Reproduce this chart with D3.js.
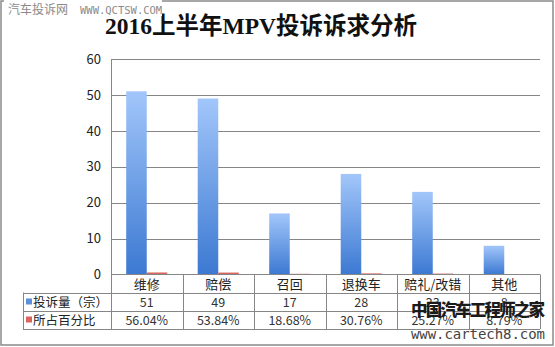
<!DOCTYPE html>
<html>
<head>
<meta charset="utf-8">
<script src="https://cdn.jsdelivr.net/npm/d3@7"></script>
<style>
  html, body { margin: 0; padding: 0; background: #fff; }
  svg { display: block; }
</style>
</head>
<body>
<svg id="chart" width="555" height="347"></svg>
<script>
const categories = ["维修", "赔偿", "召回", "退换车", "赔礼/改错", "其他"];
const complaintCounts = [51, 49, 17, 28, 23, 8];
const percentValues = [0.5604, 0.5384, 0.1868, 0.3076, 0.2527, 0.0879];
const percentLabels = ["56.04%", "53.84%", "18.68%", "30.76%", "25.27%", "8.79%"];
const seriesNames = ["投诉量（宗）", "所占百分比"];
const yTicks = [0, 10, 20, 30, 40, 50, 60];
const titleText = "2016上半年MPV投诉诉求分析";

const svg = d3.select("#chart");
const cjk = "'Noto Sans CJK SC', 'Noto Sans', sans-serif";

const plotLeft = 111, plotRight = 540, plotTop = 59, plotBottom = 274.5;
const rowH = 18;
const tableLeft = 23;

// outer border
svg.append("rect").attr("x", 1).attr("y", 1).attr("width", 552).attr("height", 344)
  .attr("fill", "#fff").attr("stroke", "#8a8a8a").attr("stroke-width", 1.5);

// gradients
const defs = svg.append("defs");
const gBlue = defs.append("linearGradient").attr("id", "gBlue")
  .attr("x1", 0).attr("y1", 0).attr("x2", 0).attr("y2", 1);
gBlue.append("stop").attr("offset", "0%").attr("stop-color", "#a2c6fa");
gBlue.append("stop").attr("offset", "100%").attr("stop-color", "#3c79d2");

const x = d3.scaleBand().domain(categories).range([plotLeft, plotRight]).padding(0);
const inner = d3.scaleBand().domain(seriesNames).range([0, x.bandwidth()])
  .paddingInner(0).paddingOuter(0.74);
const y = d3.scaleLinear().domain([0, 60]).range([plotBottom, plotTop]);

// gridlines
svg.append("g").selectAll("line").data(yTicks.filter(d => d > 0)).join("line")
  .attr("x1", plotLeft).attr("x2", plotRight)
  .attr("y1", d => Math.round(y(d)) + 0.5).attr("y2", d => Math.round(y(d)) + 0.5)
  .attr("stroke", "#868686").attr("stroke-width", 1);

// y axis
const yAxis = svg.append("g").attr("transform", `translate(${plotLeft},0)`)
  .call(d3.axisLeft(y).tickValues(yTicks).tickSize(0).tickPadding(10));
yAxis.select(".domain").attr("stroke", "#868686");
yAxis.selectAll("text").attr("font-family", cjk).attr("font-size", 13).attr("fill", "#222");

// bars
svg.append("g").selectAll("rect").data(categories).join("rect")
  .attr("x", (d) => x(d) + inner(seriesNames[0]))
  .attr("width", inner.bandwidth())
  .attr("y", (d, i) => y(complaintCounts[i]))
  .attr("height", (d, i) => y(0) - y(complaintCounts[i]))
  .attr("fill", "url(#gBlue)");
svg.append("g").selectAll("rect").data(categories).join("rect")
  .attr("x", (d) => x(d) + inner(seriesNames[1]))
  .attr("width", inner.bandwidth())
  .attr("y", (d, i) => y(percentValues[i]))
  .attr("height", (d, i) => y(0) - y(percentValues[i]))
  .attr("fill", "#d9665e");

// table
const tb = svg.append("g");
const rowsY = [plotBottom, plotBottom + rowH, plotBottom + 2 * rowH, plotBottom + 3 * rowH];
const lineC = "#868686";
tb.append("line").attr("x1", plotLeft).attr("x2", plotRight).attr("y1", rowsY[0]).attr("y2", rowsY[0]).attr("stroke", lineC);
[1, 2, 3].forEach(k => {
  tb.append("line").attr("x1", tableLeft).attr("x2", plotRight)
    .attr("y1", Math.round(rowsY[k]) + 0.5).attr("y2", Math.round(rowsY[k]) + 0.5).attr("stroke", lineC);
});
tb.append("line").attr("x1", tableLeft + 0.5).attr("x2", tableLeft + 0.5)
  .attr("y1", rowsY[1]).attr("y2", rowsY[3] + 0.5).attr("stroke", lineC);
const bounds = categories.map(c => x(c) + x.bandwidth());
tb.selectAll("line.v").data(bounds).join("line").attr("class", "v")
  .attr("x1", d => Math.round(d) + 0.5).attr("x2", d => Math.round(d) + 0.5)
  .attr("y1", rowsY[0]).attr("y2", rowsY[3] + 0.5).attr("stroke", lineC);
tb.append("line").attr("x1", plotLeft + 0.5).attr("x2", plotLeft + 0.5)
  .attr("y1", rowsY[0]).attr("y2", rowsY[3] + 0.5).attr("stroke", lineC);

tb.selectAll("text.cat").data(categories).join("text").attr("class", "cat")
  .attr("x", d => x(d) + x.bandwidth() / 2).attr("y", rowsY[0] + rowH / 2 + 5)
  .attr("text-anchor", "middle").attr("font-family", cjk).attr("font-size", 13).attr("fill", "#222")
  .text(d => d);
tb.selectAll("text.v1").data(categories).join("text").attr("class", "v1")
  .attr("x", d => x(d) + x.bandwidth() / 2).attr("y", rowsY[1] + rowH / 2 + 5)
  .attr("text-anchor", "middle").attr("font-family", cjk).attr("font-size", 12.5).attr("fill", "#333")
  .text((d, i) => complaintCounts[i]);
tb.selectAll("text.v2").data(categories).join("text").attr("class", "v2")
  .attr("x", d => x(d) + x.bandwidth() / 2).attr("y", rowsY[2] + rowH / 2 + 5)
  .attr("text-anchor", "middle").attr("font-family", cjk).attr("font-size", 12.5).attr("fill", "#333")
  .text((d, i) => percentLabels[i]);

const keyColors = ["#5a8fdc", "#d9665e"];
seriesNames.forEach((s, k) => {
  const cy = rowsY[k + 1] + rowH / 2;
  tb.append("rect").attr("x", 26).attr("y", cy - 3).attr("width", 6).attr("height", 6).attr("fill", keyColors[k]);
  tb.append("text").attr("x", 33).attr("y", cy + 5).attr("font-family", cjk).attr("font-size", 12.5)
    .attr("fill", "#222").text(s);
});

// title
svg.append("text").attr("x", 261).attr("y", 34).attr("text-anchor", "middle")
  .attr("font-family", "'Liberation Serif', 'Noto Sans CJK SC', serif").attr("font-weight", "bold")
  .attr("font-size", 23.5).attr("fill", "#111").text(titleText);

// watermark top-left
svg.append("rect").attr("x", 4).attr("y", 0).attr("width", 158).attr("height", 16).attr("fill", "#fff");
svg.append("text").attr("x", 8).attr("y", 14).attr("font-family", cjk).attr("font-size", 12)
  .attr("fill", "#8a8a8a").text("汽车投诉网");
svg.append("text").attr("x", 80).attr("y", 13.5).attr("font-family", "'DejaVu Sans Mono', monospace").attr("font-size", 10.5)
  .attr("fill", "#8a8a8a").text("WWW.QCTSW.COM");

// watermark bottom-right
svg.append("text").attr("x", 478).attr("y", 316).attr("text-anchor", "middle")
  .attr("font-family", cjk).attr("font-weight", "900").attr("font-size", 16.5).attr("fill", "#1a1a1a")
  .attr("textLength", 134).text("中国汽车工程师之家");
svg.append("text").attr("x", 478).attr("y", 339).attr("text-anchor", "middle")
  .attr("font-family", "'DejaVu Sans Mono', monospace").attr("font-size", 14).attr("fill", "#444")
  .attr("textLength", 134).text("www.cartech8.com");
</script>
</body>
</html>
